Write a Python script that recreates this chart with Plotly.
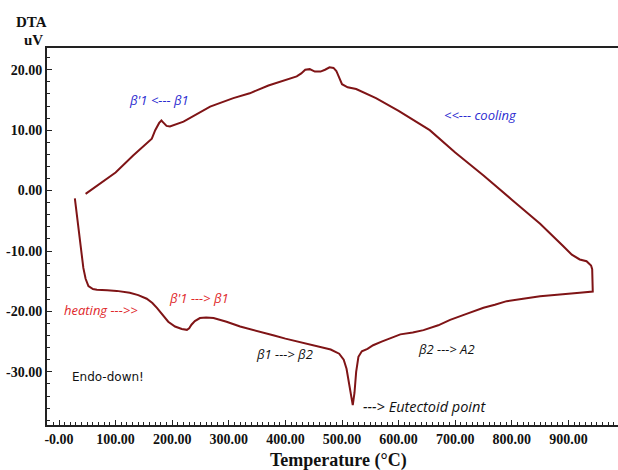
import plotly.graph_objects as go

# Heating curve (temperature °C, DTA uV)
heat_T = [28, 32, 36, 40, 43, 47, 52, 60, 67, 85, 102, 125, 140, 155, 165, 173, 183, 193, 205, 217, 226,
          230, 234, 240, 249, 260, 273, 285, 296, 320, 350, 380, 400, 430, 460, 480, 495, 503, 508, 512,
          516, 519, 522, 525, 529, 535, 545, 555, 570, 585, 603, 625, 644, 670, 691, 720, 750, 770, 791,
          820, 850, 875, 897, 920, 943]
heat_V = [-1.3, -4.5, -7.8, -10.8, -12.8, -14.6, -15.8, -16.3, -16.4, -16.5, -16.6, -16.9, -17.3, -17.9,
          -18.6, -19.4, -20.6, -21.7, -22.5, -22.9, -23.05, -22.8, -22.2, -21.6, -21.1, -21.0, -21.1,
          -21.4, -21.7, -22.5, -23.3, -24.0, -24.5, -25.2, -25.8, -26.3, -27.0, -28.0, -29.5, -31.5,
          -34.0, -35.5, -33.5, -30.0, -27.5, -26.6, -26.2, -25.6, -25.0, -24.4, -23.8, -23.5, -23.1,
          -22.3, -21.4, -20.4, -19.4, -18.9, -18.3, -17.9, -17.5, -17.3, -17.05, -16.9, -16.7]

# Cooling curve (from 943 °C back down)
cool_T = [943, 943, 942, 940, 936, 932, 920, 906, 891, 873, 850, 800, 750, 700, 655, 600, 560, 525, 510,
          500, 495, 490, 485, 478, 470, 462, 452, 443, 435, 428, 420, 400, 370, 337, 308, 267, 220, 196,
          190, 184, 181, 177, 170, 164, 131, 100, 72, 47]
cool_V = [-16.7, -15.0, -13.0, -12.4, -12.0, -11.7, -11.4, -10.6, -9.2, -7.5, -5.5, -1.5, 2.5, 6.3,
          10.0, 13.2, 15.3, 16.8, 17.1, 17.6, 18.6, 19.8, 20.3, 20.4, 20.0, 19.7, 19.7, 20.1, 20.0,
          19.4, 18.9, 18.3, 17.4, 16.1, 15.3, 13.9, 11.4, 10.6, 10.7, 11.3, 11.6, 11.2, 10.0, 8.6,
          5.8, 3.0, 1.2, -0.55]

x_tickvals = [0, 100, 200, 300, 400, 500, 600, 700, 800, 900]
x_ticktext = ["-0.00", "100.00", "200.00", "300.00", "400.00", "500.00", "600.00", "700.00", "800.00", "900.00"]
y_tickvals = [20, 10, 0, -10, -20, -30]
y_ticktext = ["20.00", "10.00", "0.00", "-10.00", "-20.00", "-30.00"]

line_color = "#7f1416"
blue = "#2b2bd0"
red = "#e0282b"
serif = "Liberation Serif, Times New Roman, serif"

fig = go.Figure()
fig.add_trace(go.Scatter(x=heat_T + cool_T, y=heat_V + cool_V, mode="lines",
                         line=dict(color=line_color, width=2), showlegend=False, hoverinfo="skip"))

ann_font = "Open Sans, Lato, sans-serif"
anns = [
    dict(x=177, y=15.0, text="<i>β'1 &lt;--- β1</i>", color=blue, xanchor="center", size=13),
    dict(x=744, y=12.5, text="<i>&lt;&lt;--- cooling</i>", color=blue, xanchor="center", size=13),
    dict(x=74, y=-19.7, text="<i>heating ---&gt;&gt;</i>", color=red, xanchor="center", size=13),
    dict(x=247, y=-17.8, text="<i>β'1 ---&gt; β1</i>", color=red, xanchor="center", size=13),
    dict(x=399, y=-27.0, text="<i>β1 ---&gt; β2</i>", color="#111111", xanchor="center", size=13),
    dict(x=684, y=-26.3, text="<i>β2 ---&gt; A2</i>", color="#111111", xanchor="center", size=13),
    dict(x=533, y=-35.7, text="<i>---&gt; Eutectoid point</i>", color="#111111", xanchor="left", size=14.5),
]
for a in anns:
    fig.add_annotation(x=a["x"], y=a["y"], text=a["text"], showarrow=False, xanchor=a["xanchor"],
                       yanchor="middle", font=dict(family=ann_font, size=a["size"], color=a["color"]))
fig.add_annotation(x=19, y=-30.8, text="Endo-down!", showarrow=False, xanchor="left", yanchor="middle",
                   font=dict(family="DejaVu Sans, Verdana, sans-serif", size=12, color="#111111"))

fig.add_annotation(xref="paper", yref="paper", x=-0.028, y=1.069, text="<b>DTA</b>", showarrow=False,
                   xanchor="center", yanchor="middle", font=dict(family=serif, size=15, color="#111"))
fig.add_annotation(xref="paper", yref="paper", x=-0.023, y=1.021, text="<b>uV</b>", showarrow=False,
                   xanchor="center", yanchor="middle", font=dict(family=serif, size=15, color="#111"))
fig.add_annotation(xref="paper", yref="paper", x=0.51, y=-0.093, text="<b>Temperature (°C)</b>",
                   showarrow=False, xanchor="center", yanchor="middle",
                   font=dict(family=serif, size=18, color="#111"))

fig.update_layout(
    width=618, height=470,
    margin=dict(l=47, r=0, t=48, b=45),
    paper_bgcolor="white", plot_bgcolor="white",
    xaxis=dict(range=[-21.2, 987.6], tickvals=x_tickvals, ticktext=["<b>%s</b>" % t for t in x_ticktext],
               ticks="inside", ticklen=5, tickwidth=1, tickcolor="#222", showline=True, linecolor="#222",
               linewidth=2, mirror=True, showgrid=False, zeroline=False,
               minor=dict(dtick=10, ticks="inside", ticklen=3, tickcolor="#222", showgrid=False),
               tickfont=dict(family=serif, size=14, color="#111")),
    yaxis=dict(range=[-38.8, 23.6], tickvals=y_tickvals, ticktext=["<b>%s</b>" % t for t in y_ticktext],
               ticks="inside", ticklen=5, tickwidth=1, tickcolor="#222", showline=True, linecolor="#222",
               linewidth=2, showgrid=False, zeroline=False,
               minor=dict(dtick=2, ticks="inside", ticklen=3, tickcolor="#222", showgrid=False),
               tickfont=dict(family=serif, size=14, color="#111")),
)

fig.write_html("out.html", config={"displayModeBar": False})
